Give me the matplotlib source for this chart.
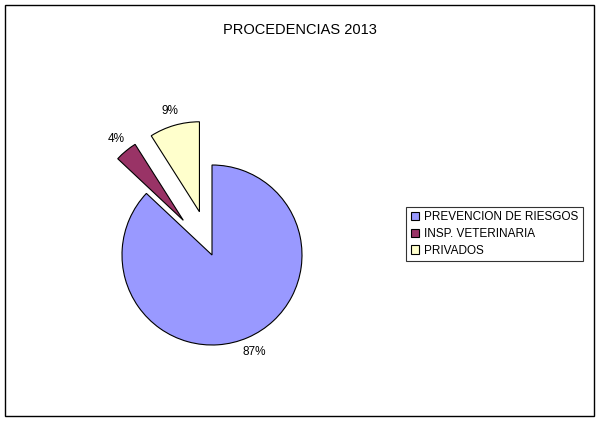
import matplotlib.pyplot as plt
from matplotlib.patches import Rectangle

plt.rcParams['font.family'] = ['Liberation Sans', 'DejaVu Sans']

categories = ["PREVENCION DE RIESGOS", "INSP. VETERINARIA", "PRIVADOS"]
shares = [87, 4, 9]
colors = ["#9999FF", "#993366", "#FFFFCC"]

fig = plt.figure(figsize=(5.99, 4.21), dpi=100)
fig.patches.append(Rectangle((5 / 599, 5 / 421), 589 / 599, 411 / 421, transform=fig.transFigure,
                             fill=False, edgecolor="black", linewidth=1))
fig.text(300 / 599, 1 - 30 / 421, "PROCEDENCIAS 2013", ha="center", va="center", fontsize=10.5)

# pie radius 1 -> 90 px
ax = fig.add_axes([(212 - 144) / 599, (166 - 144) / 421, 288 / 599, 288 / 421])
wedges, texts, autotexts = ax.pie(shares, colors=colors, explode=[0, 0.5, 0.5], startangle=90,
                                  counterclock=False, autopct="%d%%", pctdistance=1.17,
                                  wedgeprops=dict(edgecolor="black", linewidth=0.8),
                                  textprops=dict(fontsize=8.5))
ax.set_xlim(-1.6, 1.6)
ax.set_ylim(-1.6, 1.6)
ax.set_aspect("equal")
ax.axis("off")

leg = fig.legend(wedges, categories, loc="center left", bbox_to_anchor=(400 / 599, 1 - 234 / 421),
                 fontsize=8.5, frameon=True, fancybox=False, edgecolor="black",
                 handlelength=0.7, handleheight=0.7, handletextpad=0.4, borderpad=0.4, labelspacing=0.4)
leg.get_frame().set_linewidth(0.8)

fig.savefig("out.png", dpi=100)
